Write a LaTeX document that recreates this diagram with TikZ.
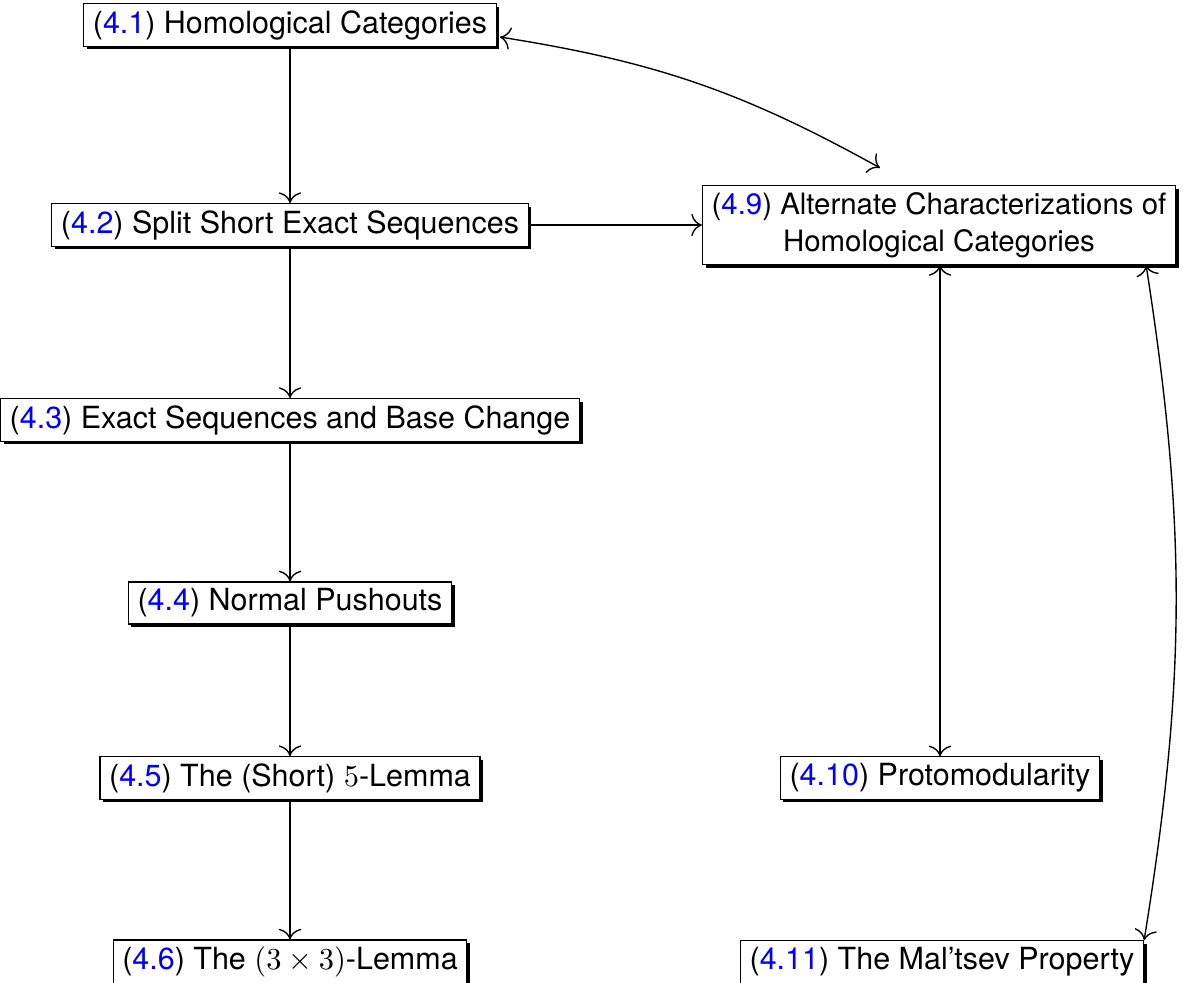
\documentclass[tikz,border=0pt]{standalone}
\usepackage{fontspec}
\setmainfont{TeX Gyre Heros}
\usetikzlibrary{shadows,calc,arrows.meta}
\newcommand{\nm}[1]{\textcolor{blue}{#1}}
\begin{document}
\begin{tikzpicture}[x=0.328pt,y=-0.328pt, >={To[scale=1.35]},
  box/.style={draw=black, line width=0.4pt, fill=white, inner xsep=3pt, inner ysep=2.2pt,
    drop shadow={shadow xshift=1pt, shadow yshift=-1pt, fill=black, opacity=1},
    font=\fontsize{10}{12}\selectfont, align=center},
  conn/.style={->, line width=0.45pt},
  biconn/.style={<->, line width=0.45pt}]
\useasboundingbox (0,0) rectangle (1183,982);
\node[box] (n41) at (290,25) {(\nm{4.1}) Homological Categories};
\node[box] (n42) at (290,225) {(\nm{4.2}) Split Short Exact Sequences};
\node[box] (n43) at (290,420) {(\nm{4.3}) Exact Sequences and Base Change};
\node[box] (n44) at (290,603) {(\nm{4.4}) Normal Pushouts};
\node[box] (n45) at (290,778) {(\nm{4.5}) The (Short) $5$-Lemma};
\node[box] (n46) at (290,962) {(\nm{4.6}) The $(3\times3)$-Lemma};
\node[box, font=\fontsize{9.65}{12.2}\selectfont] (n49) at (939,225) {(\nm{4.9}) Alternate Characterizations of\\Homological Categories};
\node[box] (n410) at (940,778) {(\nm{4.10}) Protomodularity};
\node[box] (n411) at (942,962) {(\nm{4.11}) The Mal’tsev Property};
\draw[conn] (n41) -- (n42);
\draw[conn] (n42) -- (n43);
\draw[conn] (n43) -- (n44);
\draw[conn] (n44) -- (n45);
\draw[conn] (n45) -- (n46);
\draw[conn] (n42) -- (n49);
\draw[biconn] (n49.south -| n410) -- (n410);
\draw[biconn] ($(n41.east)+(3,12)$) to[bend left=10] ($(n49.north)+(-59,-17)$);
\draw[biconn] ($(n49.south east)+(-30,0)$) to[bend left=9] (n411.north east);
\end{tikzpicture}
\end{document}
